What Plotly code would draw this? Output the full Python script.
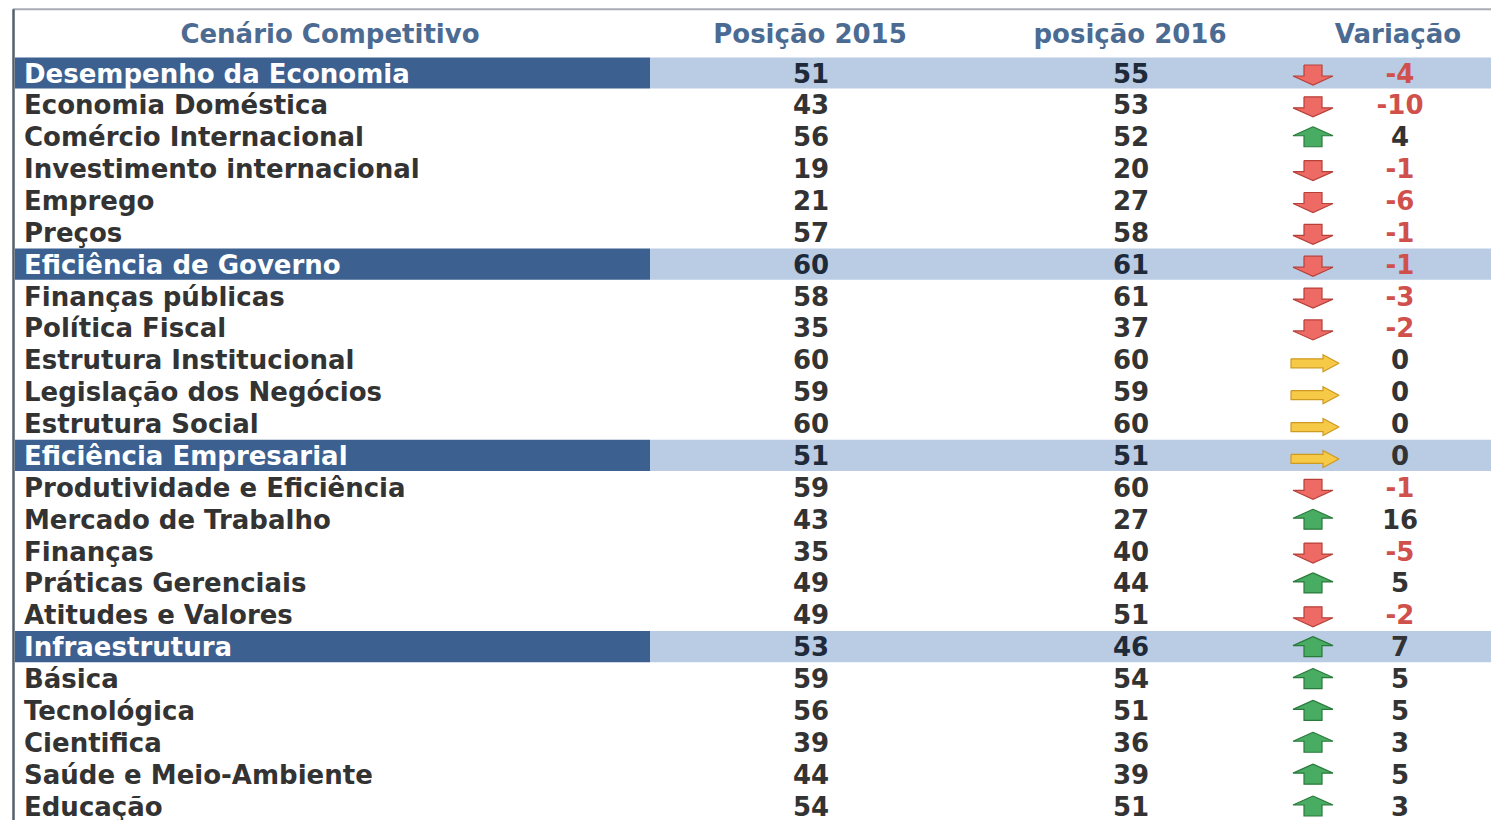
import plotly.graph_objects as go

# ── Data ──────────────────────────────────────────────────────────────────────
categorias = [
    "Desempenho da Economia", "Economia Doméstica", "Comércio Internacional",
    "Investimento internacional", "Emprego", "Preços",
    "Eficiência de Governo", "Finanças públicas", "Política Fiscal",
    "Estrutura Institucional", "Legislação dos Negócios", "Estrutura Social",
    "Eficiência Empresarial", "Produtividade e Eficiência", "Mercado de Trabalho",
    "Finanças", "Práticas Gerenciais", "Atitudes e Valores",
    "Infraestrutura", "Básica", "Tecnológica", "Cientifica",
    "Saúde e Meio-Ambiente", "Educação",
]
posicao_2015 = [51, 43, 56, 19, 21, 57, 60, 58, 35, 60, 59, 60,
                51, 59, 43, 35, 49, 49, 53, 59, 56, 39, 44, 54]
posicao_2016 = [55, 53, 52, 20, 27, 58, 61, 61, 37, 60, 59, 60,
                51, 60, 27, 40, 44, 51, 46, 54, 51, 36, 39, 51]
variacao = [-4, -10, 4, -1, -6, -1, -1, -3, -2, 0, 0, 0,
            0, -1, 16, -5, 5, -2, 7, 5, 5, 3, 5, 3]
secoes = ["Desempenho da Economia", "Eficiência de Governo",
          "Eficiência Empresarial", "Infraestrutura"]
cabecalho = ["Cenário Competitivo", "Posição 2015", "posição 2016", "Variação"]

# ── Style ─────────────────────────────────────────────────────────────────────
FONT = "DejaVu Sans"
DARK_BAND = "#3c608f"
LIGHT_BAND = "#b9cce4"
HEADER_COLOUR = "#4b6b93"
TEXT_COLOUR = "#333333"
NEG_COLOUR = "#d0504c"
SIZE = 26
ROW_PX = 31.87          # pixels per table row
TEXT_SHIFT = 3 / ROW_PX  # svg "middle" sits a little high
ARROW_X = 1313

rows = list(range(len(categorias)))
text_rows = [r + TEXT_SHIFT for r in rows]
sec_rows = [i for i, c in enumerate(categorias) if c in secoes]
is_sec = [c in secoes for c in categorias]

# arrow outlines, in pixel offsets from the cell centre
ARROW_SHAPES = {
    "down":  [(-9, -8), (9, -8), (9, 3), (20, 3), (0, 12), (-20, 3), (-9, 3), (-9, -8)],
    "up":    [(0, -10), (20, -1), (9, -1), (9, 10), (-9, 10), (-9, -1), (-20, -1), (0, -10)],
    "right": [(-22, -1), (10, -1), (10, -5), (26, 3.5), (10, 12), (10, 8), (-22, 8), (-22, -1)],
}
ARROW_STYLE = {
    "down":  ("#ee6a65", "#b8403a"),
    "up":    ("#48ad62", "#2b7a3c"),
    "right": ("#f6c947", "#cf9a22"),
}


def arrow_kind(v):
    return "down" if v < 0 else ("up" if v > 0 else "right")


fig = go.Figure()

# section bands
fig.add_trace(go.Bar(
    y=sec_rows, x=[635] * len(sec_rows), base=15, orientation="h",
    width=0.98, marker=dict(color=DARK_BAND, line_width=0), hoverinfo="skip",
))
fig.add_trace(go.Bar(
    y=sec_rows, x=[849] * len(sec_rows), base=650, orientation="h",
    width=0.98, marker=dict(color=LIGHT_BAND, line_width=0), hoverinfo="skip",
))

# header
fig.add_trace(go.Scatter(
    x=[330, 810, 1130, 1398], y=[-1.25 + TEXT_SHIFT] * 4, mode="text",
    text=[f"<b>{h}</b>" for h in cabecalho],
    textposition="middle center",
    textfont=dict(family=FONT, size=SIZE, color=HEADER_COLOUR),
    hoverinfo="skip",
))

# category labels
fig.add_trace(go.Scatter(
    x=[24] * len(rows), y=text_rows, mode="text",
    text=[f"<b>{c}</b>" for c in categorias],
    textposition="middle right",
    textfont=dict(family=FONT, size=SIZE,
                  color=["white" if s else TEXT_COLOUR for s in is_sec]),
    hoverinfo="skip",
))

# positions
for xpos, vals in [(811, posicao_2015), (1131, posicao_2016)]:
    fig.add_trace(go.Scatter(
        x=[xpos] * len(rows), y=text_rows, mode="text",
        text=[f"<b>{v}</b>" for v in vals],
        textposition="middle center",
        textfont=dict(family=FONT, size=SIZE,
                      color=["#1e2a3a" if s else TEXT_COLOUR for s in is_sec]),
        hoverinfo="skip",
    ))

# arrows
for kind, (fill, edge) in ARROW_STYLE.items():
    xs, ys = [], []
    for i, v in enumerate(variacao):
        if arrow_kind(v) != kind:
            continue
        for dx, dy in ARROW_SHAPES[kind]:
            xs.append(ARROW_X + dx)
            ys.append(i + dy / ROW_PX)
        xs.append(None)
        ys.append(None)
    fig.add_trace(go.Scatter(
        x=xs, y=ys, mode="lines", fill="toself", fillcolor=fill,
        line=dict(color=edge, width=1.2), hoverinfo="skip",
    ))

# variation numbers
fig.add_trace(go.Scatter(
    x=[1400] * len(rows), y=text_rows, mode="text",
    text=[f"<b>{v}</b>" for v in variacao],
    textposition="middle center",
    textfont=dict(family=FONT, size=SIZE,
                  color=[NEG_COLOUR if v < 0 else TEXT_COLOUR for v in variacao]),
    hoverinfo="skip",
))

# table borders
fig.add_shape(type="line", x0=13, x1=1499, y0=-2.0, y1=-2.0,
              line=dict(color="#a8adb3", width=2))
fig.add_shape(type="line", x0=13.5, x1=13.5, y0=-2.0, y1=23.44,
              line=dict(color="#55606c", width=2.5))

# the page body adds an 8px margin, so the figure is 8px smaller than the window
fig.update_layout(
    width=1491, height=812,
    margin=dict(l=0, r=0, t=0, b=0),
    plot_bgcolor="white", paper_bgcolor="white",
    showlegend=False, barmode="overlay",
    xaxis=dict(range=[8, 1499], visible=False, fixedrange=True),
    yaxis=dict(range=[(820 - 73) / ROW_PX, (8 - 73) / ROW_PX],
               visible=False, fixedrange=True),
)

fig.write_html("out.html")
